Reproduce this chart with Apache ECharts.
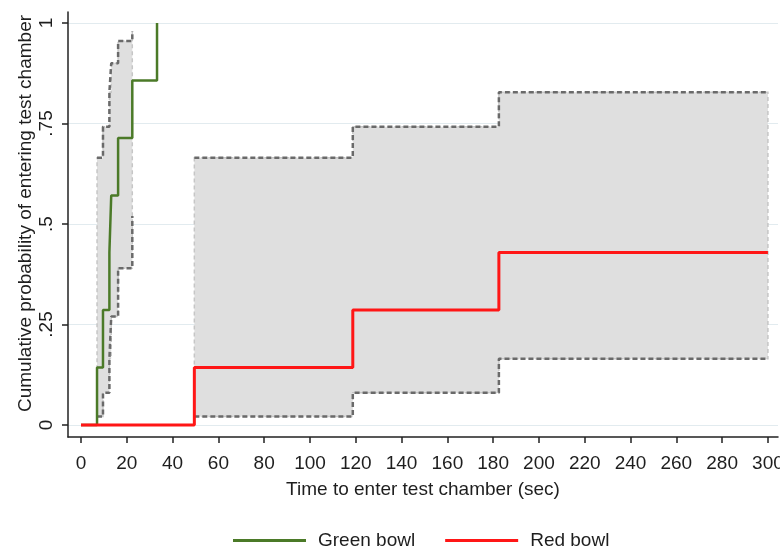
<!DOCTYPE html>
<html>
<head>
<meta charset="utf-8">
<script src="https://cdn.jsdelivr.net/npm/echarts@6/dist/echarts.min.js"></script>
<style>
html,body{margin:0;padding:0;background:#fff;}
#chart{width:780px;height:560px;}
</style>
</head>
<body>
<div id="chart"></div>
<script>
// ---- data ----
const xTicks = [0,20,40,60,80,100,120,140,160,180,200,220,240,260,280,300];
const yTicks = [0,0.25,0.5,0.75,1];
const yTickLabels = ['0','.25','.5','.75','1'];

const greenTime = [0,7,9.6,12.4,13.2,16.2,22.4,33.2];
const greenProb = [0,0.143,0.286,0.429,0.571,0.714,0.857,1];
const greenCiTime  = [7,9.6,12.4,13.2,16.2,22.4];
const greenCiLower = [0.021,0.08,0.165,0.27,0.39,0.52];
const greenCiUpper = [0.665,0.742,0.828,0.90,0.955,0.98];

const redTime = [0,49.5,118.7,182.5,300];
const redProb = [0,0.143,0.286,0.429,0.429];
const redCiTime  = [49.5,118.7,182.5,300];
const redCiLower = [0.021,0.08,0.165,0.165];
const redCiUpper = [0.665,0.742,0.828,0.828];

// ---- helpers ----
const zip = (a,b) => a.map((v,i)=>[v,b[i]]);
const FONT = 'Liberation Sans, Arial, sans-serif';
const TXT = '#1e1e1e';

function bandSeries(time, lo, hi){
  return {
    type:'custom',
    silent:true,
    z:1,
    data:[[time[0], lo[0]]],
    renderItem:function(params, api){
      const pts = [];
      const n = time.length;
      for(let i=0;i<n-1;i++){
        pts.push(api.coord([time[i],hi[i]]));
        pts.push(api.coord([time[i+1],hi[i]]));
      }
      pts.push(api.coord([time[n-1],hi[n-1]]));
      pts.push(api.coord([time[n-1],lo[n-1]]));
      for(let i=n-2;i>=0;i--){
        pts.push(api.coord([time[i+1],lo[i]]));
        pts.push(api.coord([time[i],lo[i]]));
      }
      return {type:'polygon', shape:{points:pts},
        style:{fill:'#dfdfdf', stroke:'#c6c6c6', lineWidth:1.5, lineDash:[4,3]}};
    }
  };
}
function ciLine(time, vals){
  return {type:'line', step:'end', symbol:'none', silent:true, z:2,
    data:zip(time, vals),
    lineStyle:{color:'#6a6a6a', width:2.5, type:[5,3]}};
}

const chart = echarts.init(document.getElementById('chart'), null, {renderer:'canvas'});
const axisLineStyle = {color:'#222', width:1.5};

chart.setOption({
  animation:false,
  backgroundColor:'#fff',
  grid:{left:68, right:2, top:12, bottom:123, containLabel:false, outerBoundsMode:'none'},
  xAxis:{
    type:'value', min:-5.68, max:304.4,
    splitLine:{show:false},
    axisLine:{show:true, onZero:false, lineStyle:axisLineStyle},
    axisTick:{show:true, customValues:xTicks, length:6, lineStyle:axisLineStyle},
    axisLabel:{customValues:xTicks, fontSize:19, fontFamily:FONT, color:TXT, margin:17},
    name:'Time to enter test chamber (sec)', nameLocation:'middle', nameGap:43,
    nameMoveOverlap:false,
    nameTextStyle:{fontSize:19, fontFamily:FONT, color:TXT}
  },
  yAxis:{
    type:'value', min:-0.0299, max:1.0274,
    splitLine:{show:false},
    axisLine:{show:true, onZero:false, lineStyle:axisLineStyle},
    axisTick:{show:true, customValues:yTicks, length:6, lineStyle:axisLineStyle},
    axisLabel:{customValues:yTicks, rotate:90, fontSize:19, fontFamily:FONT, color:TXT, margin:12,
      formatter:function(v){ const i = yTicks.findIndex(t=>Math.abs(t-v)<1e-9); return i>=0?yTickLabels[i]:''; }},
    name:'Cumulative probability of entering test chamber', nameLocation:'middle', nameGap:33,
    nameMoveOverlap:false,
    nameTextStyle:{fontSize:19, fontFamily:FONT, color:TXT, padding:[0,0,0,22]}
  },
  legend:{
    data:[{name:'Green bowl', icon:'rect'},{name:'Red bowl', icon:'rect'}],
    top:526, left:228,
    itemWidth:73, itemHeight:3, itemGap:30,
    textStyle:{fontSize:19, fontFamily:FONT, color:TXT, padding:[0,0,0,7]}
  },
  series:[
    {type:'line', data:[], silent:true, z:0,
      markLine:{silent:true, z:0, symbol:'none', label:{show:false}, animation:false,
        lineStyle:{color:'#e2ebef', width:1, type:'solid'},
        data:yTicks.map(v=>({yAxis:v}))}},
    bandSeries(redCiTime, redCiLower, redCiUpper),
    bandSeries(greenCiTime, greenCiLower, greenCiUpper),
    ciLine(redCiTime, redCiLower),
    ciLine(redCiTime, redCiUpper),
    ciLine(greenCiTime, greenCiLower),
    ciLine(greenCiTime, greenCiUpper),
    {name:'Green bowl', type:'line', step:'end', symbol:'none', z:3,
      data:zip(greenTime, greenProb),
      lineStyle:{color:'#4b7a28', width:2.5}, itemStyle:{color:'#4b7a28'}},
    {name:'Red bowl', type:'line', step:'end', symbol:'none', z:4,
      data:zip(redTime, redProb),
      lineStyle:{color:'#ff1616', width:3}, itemStyle:{color:'#ff1616'}}
  ]
});
</script>
</body>
</html>
